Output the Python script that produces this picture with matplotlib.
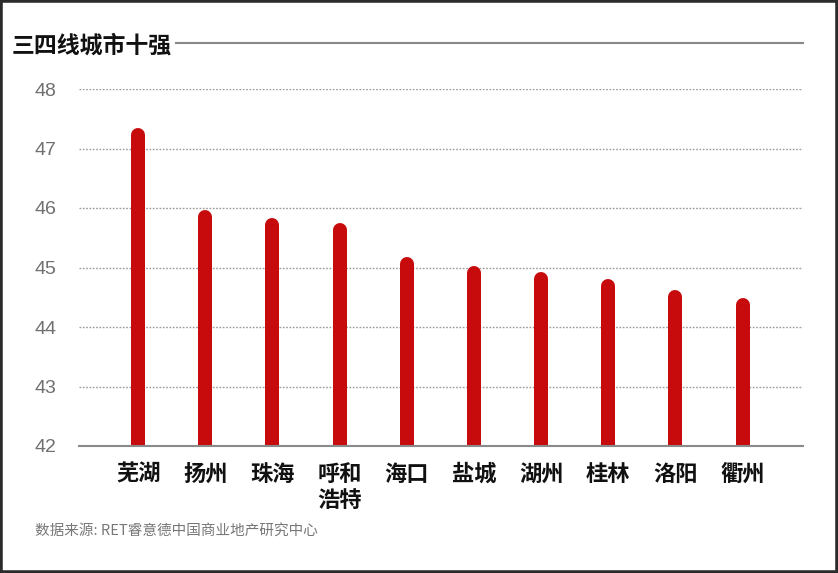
import matplotlib
matplotlib.use('Agg')
import matplotlib.pyplot as plt
import numpy as np
from matplotlib.patches import Rectangle

plt.rcParams['font.family'] = ['Noto Sans CJK SC', 'DejaVu Sans']

cities = ['芜湖', '扬州', '珠海', '呼和\n浩特', '海口', '盐城', '湖州', '桂林', '洛阳', '衢州']
values = [47.35, 45.96, 45.84, 45.74, 45.18, 45.03, 44.92, 44.81, 44.62, 44.49]
yticks = [42, 43, 44, 45, 46, 47, 48]

title = '三四线城市十强'
source = '数据来源: RET睿意德中国商业地产研究中心'

fig = plt.figure(figsize=(8.38, 5.73), dpi=100)
ax = fig.add_axes([79/838, 1-446/573, (803-79)/838, (446-89)/573])

x = np.arange(len(cities))
ymin, ymax = 42, 48
ax.set_ylim(ymin, ymax)
ax.set_xlim(-0.88, 9.9)

# rounded top bars: thick lines with round caps, bottom cap clipped by the axes
bar_px = 14
lw_pt = bar_px * 72 / 100
r = (bar_px / 2) / (357 / (ymax - ymin))
for xi, v in zip(x, values):
    ax.plot([xi, xi], [ymin - 1, v - r], color='#c70a0c', lw=lw_pt,
            solid_capstyle='round', zorder=3)

for t in yticks[1:]:
    ax.axhline(t, color='#9a9a9a', lw=1, ls=(0, (1.2, 1.2)), zorder=1)
ax.axhline(ymin, color='#8a8a8a', lw=1.5, zorder=4, clip_on=False)

for s in ax.spines.values():
    s.set_visible(False)
ax.set_yticks(yticks)
ax.set_yticklabels([str(t) for t in yticks], fontsize=14, color='#707070',
                   family=['Liberation Sans', 'DejaVu Sans'])
ax.tick_params(axis='y', length=0, pad=16)
ax.set_xticks(x)
ax.set_xticklabels(cities, fontsize=16, fontweight='bold', color='#111111',
                   va='top', linespacing=1.2)
ax.tick_params(axis='x', length=0, pad=12)

# title with rule
fig.text(12/838, 1-46/573, title, fontsize=16.5, fontweight='bold', color='#111111',
         va='center', ha='left')
fig.add_artist(plt.Line2D([176/838, 803/838], [1-43/573, 1-43/573],
                          color='#888888', lw=1.5))

fig.text(35/838, 1-531/573, source, fontsize=10.5, color='#777777',
         style='italic', va='center', ha='left')

# frame around figure
fig.add_artist(Rectangle((0, 0), 1, 1, transform=fig.transFigure, fill=False,
                         edgecolor='#2b2b2b', lw=4, clip_on=False))

fig.savefig('out.png', dpi=100)
